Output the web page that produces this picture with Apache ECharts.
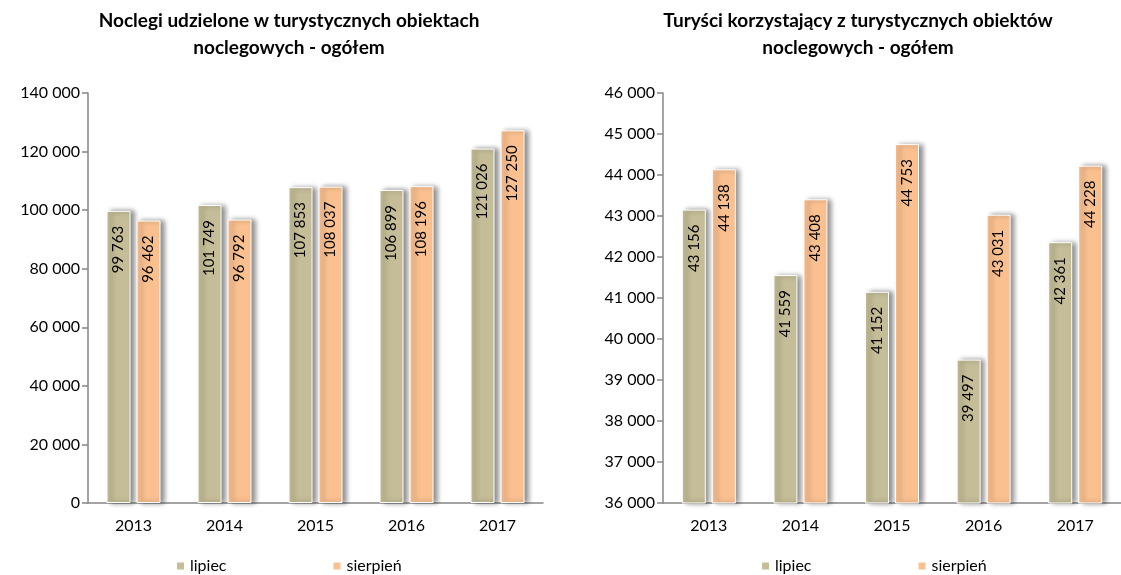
<!DOCTYPE html>
<html>
<head>
<meta charset="utf-8">
<script src="https://cdn.jsdelivr.net/npm/echarts@6/dist/echarts.min.js"></script>
<style>
  html, body { margin: 0; padding: 0; background: #fff; }
  #wykres { width: 1121px; height: 575px; }
</style>
</head>
<body>
<div id="wykres"></div>
<script>
// dane
const lata = ['2013', '2014', '2015', '2016', '2017']
const noclegiLipiec = [99763, 101749, 107853, 106899, 121026]
const noclegiSierpien = [96462, 96792, 108037, 108196, 127250]
const turysciLipiec = [43156, 41559, 41152, 39497, 42361]
const turysciSierpien = [44138, 43408, 44753, 43031, 44228]

const FONT = 'Lato'
const kolorLipiec = '#C4BD97'
const kolorSierpien = '#FAC090'

const liczba = v => String(v).replace(/\B(?=(\d{3})+(?!\d))/g, ' ')

const osX = idx => ({
  gridIndex: idx,
  type: 'category',
  data: lata,
  axisLine: { lineStyle: { color: '#868686', width: 1.5 } },
  axisTick: { length: 6, lineStyle: { color: '#868686', width: 1.5 } },
  axisLabel: { color: '#000', fontSize: 16, fontFamily: FONT, margin: 15 }
})

const osY = (idx, min, max, interval) => ({
  gridIndex: idx,
  type: 'value',
  min: min,
  max: max,
  interval: interval,
  axisLine: { show: true, lineStyle: { color: '#868686', width: 1.5 } },
  axisTick: { show: true, length: 6, lineStyle: { color: '#868686', width: 1.5 } },
  splitLine: { show: false },
  axisLabel: { color: '#000', fontSize: 16, fontFamily: FONT, margin: 8, formatter: liczba }
})

const seria = (name, idx, data, color) => ({
  name: name,
  type: 'bar',
  xAxisIndex: idx,
  yAxisIndex: idx,
  data: data,
  barWidth: 24,
  barGap: '25%',
  itemStyle: {
    color: color,
    borderColor: '#fff',
    borderWidth: 1,
    shadowColor: 'rgba(0,0,0,0.45)',
    shadowBlur: 5,
    shadowOffsetX: 4,
    shadowOffsetY: 0
  },
  label: {
    show: true,
    position: 'insideTop',
    rotate: 90,
    align: 'right',
    verticalAlign: 'middle',
    distance: 15,
    color: '#000',
    fontSize: 15,
    fontFamily: FONT,
    formatter: p => liczba(p.value)
  }
})

const legenda = left => ({
  left: left,
  top: 558,
  padding: 0,
  itemWidth: 9,
  itemHeight: 9,
  itemGap: 105,
  icon: 'rect',
  textStyle: { color: '#000', fontSize: 16, fontFamily: FONT },
  data: ['lipiec', 'sierpień']
})

const tytul = (text, left) => ({
  text: text,
  left: left,
  top: 2,
  textAlign: 'center',
  textStyle: { fontSize: 19, fontWeight: 'bold', fontFamily: FONT, color: '#000', lineHeight: 27 }
})

let myChart = echarts.init(document.getElementById('wykres'))

let option = {
  animation: false,
  title: [
    tytul('Noclegi udzielone w turystycznych obiektach\nnoclegowych - ogółem', 284),
    tytul('Turyści korzystający z turystycznych obiektów\nnoclegowych - ogółem', 853)
  ],
  legend: [legenda(175), legenda(760)],
  grid: [
    { left: 88, top: 93, width: 455, bottom: 72 },
    { left: 663, top: 93, width: 463, bottom: 72 }
  ],
  xAxis: [osX(0), osX(1)],
  yAxis: [osY(0, 0, 140000, 20000), osY(1, 36000, 46000, 1000)],
  series: [
    seria('lipiec', 0, noclegiLipiec, kolorLipiec),
    seria('sierpień', 0, noclegiSierpien, kolorSierpien),
    seria('lipiec', 1, turysciLipiec, kolorLipiec),
    seria('sierpień', 1, turysciSierpien, kolorSierpien)
  ]
}

myChart.setOption(option)
</script>
</body>
</html>
